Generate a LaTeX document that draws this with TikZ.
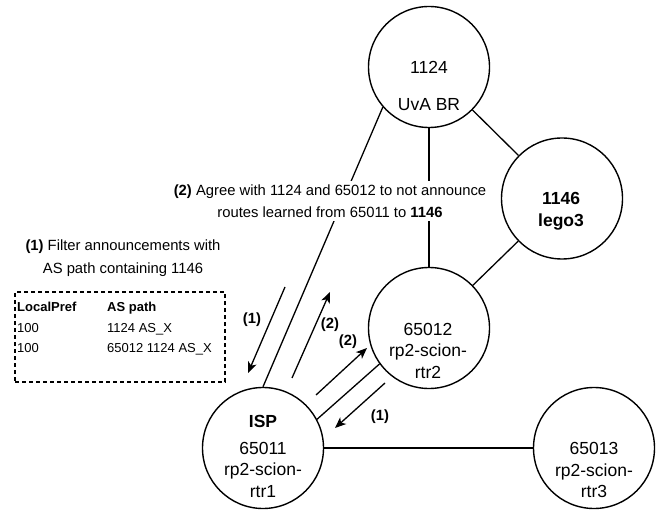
\documentclass[tikz,border=0pt]{standalone}
\usepackage{fontspec}
\setmainfont{Liberation Sans}
\usetikzlibrary{arrows.meta}
\begin{document}
\begin{tikzpicture}[x=1pt,y=-1pt,
  router/.style={circle, draw, line width=1.4pt, minimum size=121pt, inner sep=0pt},
  rtext/.style={align=center, font=\fontsize{17.5}{21.5}\selectfont, inner sep=0pt},
  link/.style={line width=1.3pt},
  flow/.style={line width=1.3pt, -{Stealth[length=11pt,width=9pt,inset=3pt]}},
  note/.style={align=center, font=\fontsize{14.8}{22.5}\selectfont, inner sep=1pt},
  flowlabel/.style={font=\fontsize{14.8}{17}\selectfont\bfseries, inner sep=0pt}
]
\useasboundingbox (0,0) rectangle (660,510);

% routers
\node[router] (uva)  at (429,67)    {};
\node[router] (lego) at (562,198.5) {};
\node[router] (r2)   at (429,328)   {};
\node[router] (isp)  at (263,448)   {};
\node[router] (r3)   at (594,448)   {};

% router labels
\node[rtext] (uvatxt)  at (429,85.5) {1124\\[15.5pt]UvA BR};
\node[rtext, font=\fontsize{17.5}{22}\selectfont\bfseries] (legotxt) at (561,211) {1146\\lego3};
\node[rtext] (r2txt)   at (428,350.5) {65012\\rp2-scion-\\rtr2};
\node[rtext] (isptxt)  at (263,456) {\textbf{ISP}\\[5.5pt]65011\\rp2-scion-\\rtr1};
\node[rtext] (r3txt)   at (594,470) {65013\\rp2-scion-\\rtr3};

% links
\draw[link] (uva.221.7) -- (isp.north);
\draw[link] (uva) -- (r2);
\draw[link] (uva) -- (lego);
\draw[link] (lego) -- (r2);
\draw[link] (r2.216) -- (isp.28);
\draw[link] (isp) -- (r3);

% annotations
\node[note, fill=white, inner ysep=3pt] (agree) at (330,201)
  {\textbf{(2)} Agree with 1124 and 65012 to not announce\\routes learned from 65011 to \textbf{1146}};
\node[note] (filter) at (123,258)
  {\textbf{(1)} Filter announcements with\\AS path containing 1146};

% routing table
\node[draw, dash pattern=on 4pt off 3pt, line width=1.2pt, minimum width=210pt,
      minimum height=90pt, inner sep=0pt] (tbl) at (120,337) {};
\node[anchor=north west, inner sep=0pt, font=\fontsize{13}{20.5}\selectfont] (rows) at (17,297.3)
  {\begin{tabular}{@{}p{90pt}@{}l@{}}
   \textbf{LocalPref} & \textbf{AS path}\\
   100 & 1124 AS\_X\\
   100 & 65012 1124 AS\_X
   \end{tabular}};

% announcement flows
\coordinate (a1s) at (285,287); \coordinate (a1e) at (248,373);
\coordinate (a2s) at (292,378); \coordinate (a2e) at (330,292);
\coordinate (a3s) at (316,395); \coordinate (a3e) at (367,348);
\coordinate (a4s) at (385,383); \coordinate (a4e) at (335,428);
\draw[flow] (a1s) -- (a1e);
\draw[flow] (a2s) -- (a2e);
\draw[flow] (a3s) -- (a3e);
\draw[flow] (a4s) -- (a4e);

\node[flowlabel] (l1) at (252,320) {(1)};
\node[flowlabel] (l2) at (330,325) {(2)};
\node[flowlabel] (l3) at (348,342) {(2)};
\node[flowlabel] (l4) at (380,417) {(1)};
\end{tikzpicture}
\end{document}
